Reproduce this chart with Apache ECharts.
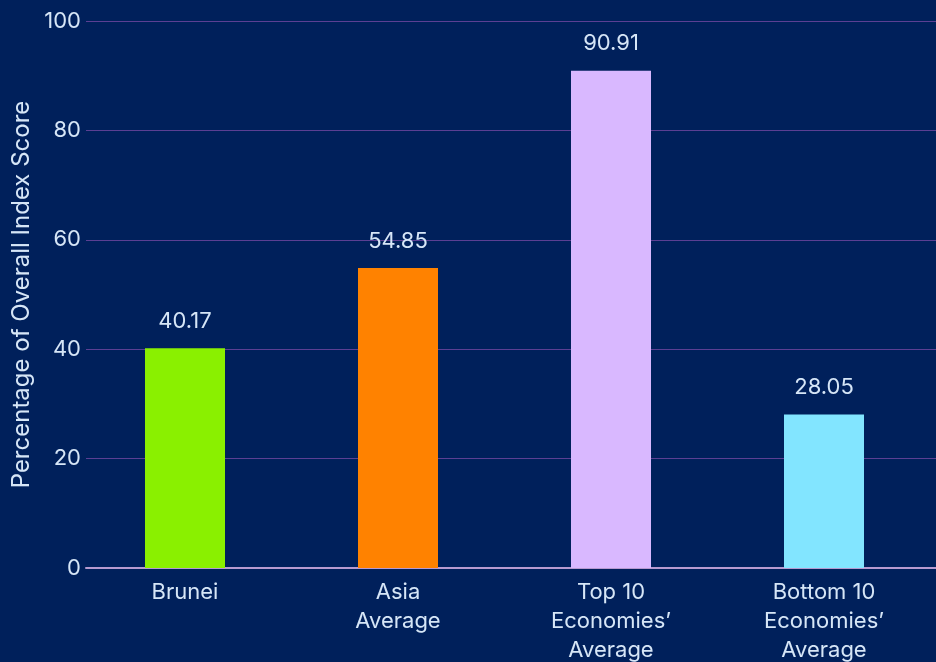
<!DOCTYPE html>
<html>
<head>
<meta charset="utf-8">
<script src="https://cdn.jsdelivr.net/npm/echarts@6/dist/echarts.min.js"></script>
<style>
  html, body { margin: 0; padding: 0; background: #00205b; }
  #chart { width: 936px; height: 662px; }
</style>
</head>
<body>
<div id="chart"></div>
<script>
// Overall index score comparison
const categories = ['Brunei', 'Asia\nAverage', 'Top 10\nEconomies\u2019\nAverage', 'Bottom 10\nEconomies\u2019\nAverage'];
const values = [40.17, 54.85, 90.91, 28.05];
const barColors = ['#8af000', '#ff8200', '#d9b8ff', '#82e5ff'];
const yTicks = [0, 20, 40, 60, 80, 100];

const textColor = '#d6e6f7';
const font = 'Inter, "Noto Sans", sans-serif';
const yMin = yTicks[0];
const yMax = yTicks[yTicks.length - 1];

const chart = echarts.init(document.getElementById('chart'), null, { renderer: 'canvas' });
chart.setOption({
  backgroundColor: '#00205b',
  animation: false,
  // grid 0: value axis, gridlines and baseline; grid 1: the bars and category labels
  grid: [
    { left: 86, right: 0, top: 21, bottom: 94, containLabel: false, outerBoundsMode: 'none' },
    { left: 78.5, right: 5.5, top: 21, bottom: 94, containLabel: false, outerBoundsMode: 'none' }
  ],
  xAxis: [
    {
      gridIndex: 0, type: 'category', data: categories,
      axisLine: { show: true, lineStyle: { color: '#b79ad0', width: 2 } },
      axisTick: { show: false }, axisLabel: { show: false }, splitLine: { show: false }
    },
    {
      gridIndex: 1, type: 'category', data: categories,
      axisLine: { show: false },
      axisTick: { show: false },
      axisLabel: {
        color: textColor, fontFamily: font, fontSize: 22, lineHeight: 29,
        margin: 10, interval: 0
      }
    }
  ],
  yAxis: [
    {
      gridIndex: 0, type: 'value', min: yMin, max: yMax, interval: 20,
      name: 'Percentage of Overall Index Score',
      nameLocation: 'middle',
      nameGap: 52,
      nameTextStyle: { color: textColor, fontFamily: font, fontSize: 24 },
      axisLine: { show: false },
      axisTick: { show: false },
      axisLabel: { color: textColor, fontFamily: font, fontSize: 22, margin: 5 },
      splitLine: { lineStyle: { color: '#5b3f93', width: 1 } }
    },
    {
      gridIndex: 1, type: 'value', min: yMin, max: yMax, interval: 20,
      show: false, splitLine: { show: false }
    }
  ],
  series: [{
    type: 'bar',
    xAxisIndex: 1, yAxisIndex: 1,
    data: values.map((v, i) => ({ value: v, itemStyle: { color: barColors[i] } })),
    barWidth: 80,
    label: {
      show: true, position: 'top', distance: 16,
      color: textColor, fontFamily: font, fontSize: 22,
      formatter: p => p.value.toFixed(2)
    }
  }]
});
</script>
</body>
</html>
